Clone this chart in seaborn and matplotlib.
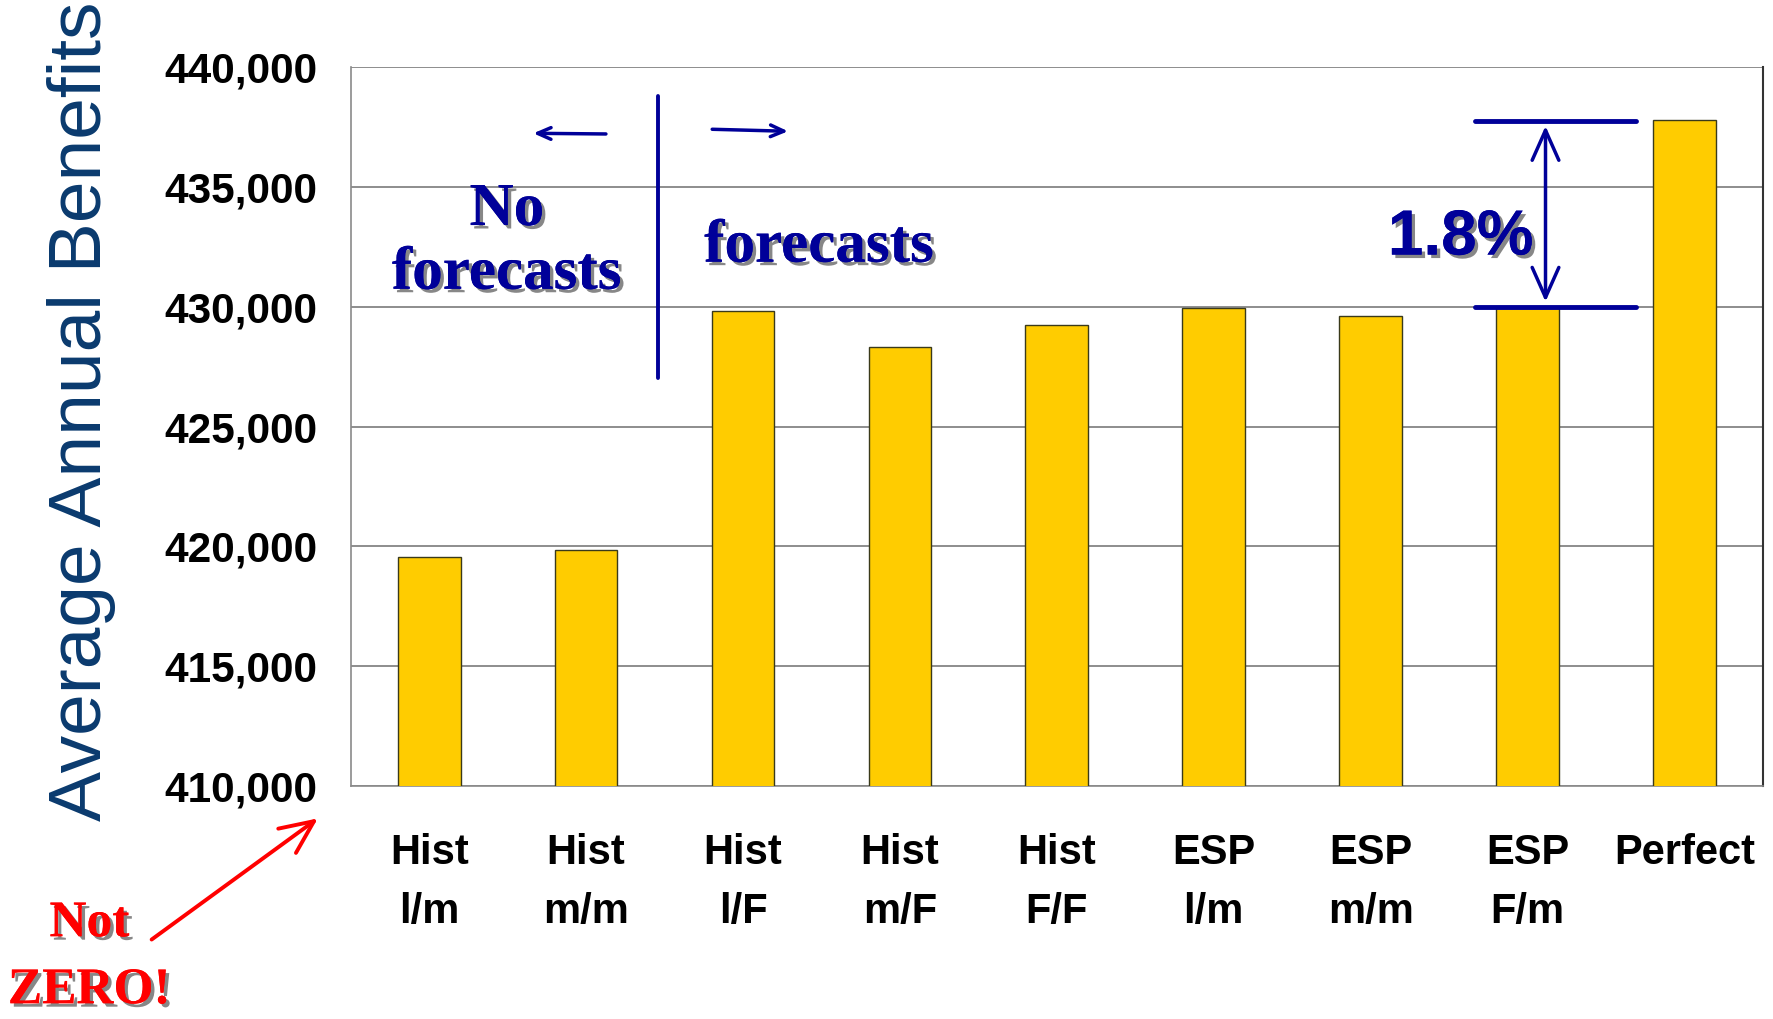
import matplotlib
matplotlib.use("Agg")
import matplotlib.pyplot as plt
import matplotlib.patheffects as pe
from matplotlib.ticker import StrMethodFormatter, FixedLocator
import seaborn as sns

# ---------- DATA ----------
categories = ["Hist\nl/m", "Hist\nm/m", "Hist\nl/F", "Hist\nm/F", "Hist\nF/F",
              "ESP\nl/m", "ESP\nm/m", "ESP\nF/m", "Perfect"]
benefits = [419550, 419870, 429820, 428330, 429250, 429960, 429600, 429950, 437780]
y_ticks = [410000, 415000, 420000, 425000, 430000, 435000, 440000]

BLUE = "#000099"
NAVY = "#0a3a6e"

sns.set_theme(style="white")
plt.rcParams["font.family"] = ["Liberation Sans", "DejaVu Sans"]

fig = plt.figure(figsize=(17.74, 10.19), dpi=100)
ax = fig.add_axes([0.1977, 0.2284, 0.7961, 0.706])

sns.barplot(x=categories, y=benefits, color="#FFCC00", width=0.4,
            edgecolor="#3a3a1a", linewidth=1.0, saturation=1, ax=ax, zorder=3)

ax.set_ylim(410000, 440000)
ax.set_xlim(-0.5, len(categories) - 0.5)
ax.yaxis.set_major_locator(FixedLocator(y_ticks))
ax.yaxis.set_major_formatter(StrMethodFormatter("{x:,.0f}"))
ax.grid(axis="y", color="#7a7a7a", linewidth=1.2, zorder=0)
ax.set_axisbelow(True)

for s in ["left", "bottom"]:
    ax.spines[s].set_color("#8a8a8a")
    ax.spines[s].set_linewidth(1.2)
ax.spines["right"].set_color("#333333")
ax.spines["right"].set_linewidth(1.5)
ax.spines["top"].set_visible(False)

ax.tick_params(axis="y", direction="out", length=10, width=1.2, color="#8a8a8a",
               pad=14, labelsize=30.5, labelcolor="black")
ax.tick_params(axis="x", which="major", length=0, pad=34, labelsize=30,
               labelcolor="black")
ax.set_xticks([i + 0.5 for i in range(-1, len(categories))], minor=True)
ax.tick_params(axis="x", which="minor", direction="out", length=10, width=1.2,
               color="#8a8a8a")
for lab in ax.get_yticklabels() + ax.get_xticklabels():
    lab.set_fontweight("bold")
for lab in ax.get_xticklabels():
    lab.set_linespacing(1.6)
ax.set_xlabel("")
ax.set_ylabel("")

fig.text(0.046, 0.596, "Average Annual Benefits", rotation=90, ha="center",
         va="center", fontsize=54, color=NAVY)

# ---------- ANNOTATIONS ----------
shadow = [pe.withSimplePatchShadow(offset=(2.5, -2.5), shadow_rgbFace="#555555",
                                   alpha=0.7), pe.Normal()]
serif = ["Liberation Serif", "DejaVu Serif"]

# divider between "no forecasts" and "forecasts"
ax.plot([1.46, 1.46], [438770, 427030], color=BLUE, lw=2.8, zorder=5)
ax.annotate("", xy=(0.646, 437230), xytext=(1.144, 437200),
            arrowprops=dict(arrowstyle="->,head_length=0.8,head_width=0.35",
                            color=BLUE, lw=2.5))
ax.annotate("", xy=(2.305, 437310), xytext=(1.786, 437400),
            arrowprops=dict(arrowstyle="->,head_length=0.8,head_width=0.35",
                            color=BLUE, lw=2.5))
ax.text(0.495, 432700, "No\nforecasts", ha="center", va="center", fontsize=44,
        fontweight="bold", family=serif, color=BLUE, linespacing=1.18,
        path_effects=shadow, zorder=6)
ax.text(2.485, 432500, "forecasts", ha="center", va="center", fontsize=44,
        fontweight="bold", family=serif, color=BLUE, path_effects=shadow, zorder=6)

# 1.8% bracket
ax.plot([6.667, 7.69], [437736, 437736], color=BLUE, lw=3.5, zorder=5, clip_on=False)
ax.plot([6.667, 7.69], [430000, 430000], color=BLUE, lw=3.5, zorder=5)
ax.annotate("", xy=(7.114, 437650), xytext=(7.114, 430090),
            arrowprops=dict(arrowstyle="<->,head_length=1.8,head_width=0.8",
                            color=BLUE, lw=2.5))
ax.text(6.573, 432880, "1.8%", ha="center", va="center", fontsize=46,
        fontweight="bold", color=BLUE, path_effects=shadow, zorder=6)

# Not ZERO!
ax.annotate("", xy=(-0.695, 408730), xytext=(-1.783, 403540),
            xycoords="data", annotation_clip=False,
            arrowprops=dict(arrowstyle="->,head_length=2.0,head_width=0.9",
                            color="red", lw=2.8))
ax.text(-2.165, 402850, "Not\nZERO!", ha="center", va="center", fontsize=37,
        fontweight="bold", family=serif, color="red", linespacing=1.6,
        path_effects=shadow, clip_on=False)

fig.savefig("out.png", dpi=100)
